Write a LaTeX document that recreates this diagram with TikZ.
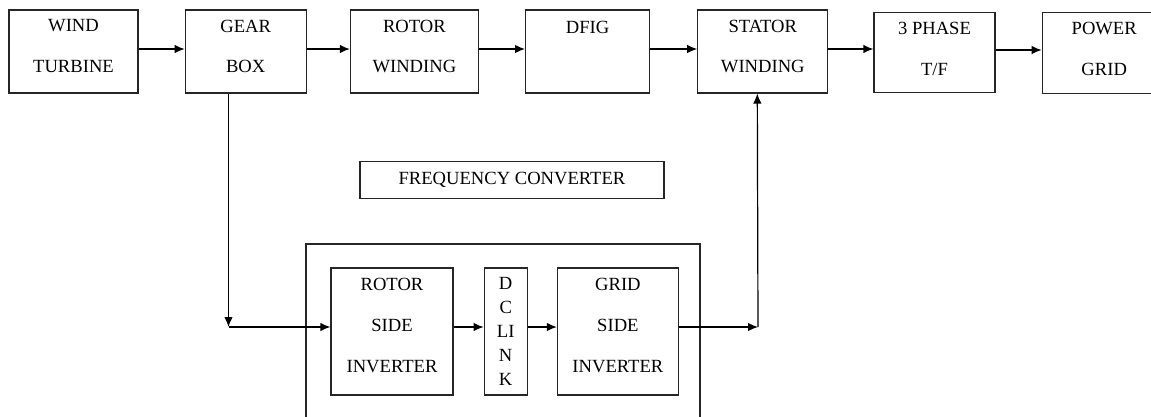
\documentclass[tikz,border=0pt]{standalone}
\usepackage{fontspec}
\setmainfont{Liberation Serif}
\usetikzlibrary{arrows.meta,positioning}
\tikzset{
  every picture/.append style={line join=miter},
  dfig block/.style={draw=black!85,line width=1.2pt,inner sep=0pt},
  dfig text/.style={font=\fontsize{18.6}{40.5}\selectfont,align=center,inner sep=0pt,anchor=north},
  dfig link/.style={font=\fontsize{18.6}{24}\selectfont,align=center,inner sep=0pt,anchor=north},
  dfig arrow/.style={line width=1.2pt,-{Latex[length=10pt,width=8.5pt]}}
}

\begin{document}
\begin{tikzpicture}[x=1pt,y=-1pt]
\useasboundingbox (0,0) rectangle (1151,416);
% machine chain
\node[dfig block,minimum width=129pt,minimum height=83pt] (wt) at (73.5,51.5) {};
\node[dfig block,minimum width=121pt,minimum height=83pt,right=46pt of wt] (gb) {};
\node[dfig block,minimum width=128pt,minimum height=83pt,right=43pt of gb] (rw) {};
\node[dfig block,minimum width=124pt,minimum height=83pt,right=46pt of rw] (dfig) {};
\node[dfig block,minimum width=130pt,minimum height=83pt,right=47pt of dfig] (sw) {};
\node[dfig block,minimum width=121pt,minimum height=80pt,right=45pt of sw,yshift=-1pt] (tf) {};
\node[dfig block,minimum width=124pt,minimum height=81pt,right=46pt of tf,yshift=-0.5pt] (pg) {};
\node[dfig text] (wt-t) at ([yshift=-10.2pt]wt.north) {WIND\\TURBINE};
\node[dfig text] (gb-t) at ([yshift=-10.2pt]gb.north) {GEAR\\BOX};
\node[dfig text] (rw-t) at ([yshift=-10.2pt]rw.north) {ROTOR\\WINDING};
\node[dfig text] (dfig-t) at ([yshift=-11.2pt]dfig.north) {DFIG};
\node[dfig text] (sw-t) at ([yshift=-10.2pt]sw.north) {STATOR\\WINDING};
\node[dfig text] (tf-t) at ([yshift=-10.2pt]tf.north) {3 PHASE\\T/F};
\node[dfig text] (pg-t) at ([yshift=-10.2pt]pg.north) {POWER\\GRID};

% converter
\node[dfig block,minimum width=304pt,minimum height=37pt,font=\fontsize{18.6}{22}\selectfont] (fc) at (512,180.3) {FREQUENCY CONVERTER};
\node[dfig block,minimum width=394pt,minimum height=200pt] (conv) at (503,344) {};
\node[dfig block,minimum width=122pt,minimum height=127pt] (rsi) at (392,331.5) {};
\node[dfig block,minimum width=43pt,minimum height=127pt,right=30pt of rsi] (dc) {};
\node[dfig block,minimum width=121pt,minimum height=127pt,right=29pt of dc] (gsi) {};
\node[dfig text,font=\fontsize{18.6}{41}\selectfont] (rsi-t) at ([yshift=-10.2pt]rsi.north) {ROTOR\\SIDE\\INVERTER};
\node[dfig link] (dc-t) at ([yshift=-10.2pt]dc.north) {D\\C\\LI\\N\\K};
\node[dfig text,font=\fontsize{18.6}{41}\selectfont] (gsi-t) at ([yshift=-10.2pt]gsi.north) {GRID\\SIDE\\INVERTER};

% connectors
\foreach \a/\b in {wt/gb,gb/rw,rw/dfig,dfig/sw,sw/tf,tf/pg}
  \draw[dfig arrow] ([yshift=2.5pt]\a.east) -- ([yshift=2.5pt]\a.east -| \b.west);
\coordinate (c1) at (228.5,327);
\coordinate (c2) at (758,327);
\draw[dfig arrow] (gb.south -| c1) -- (c1);
\draw[dfig arrow] (c1) -- (c1 -| rsi.west);
\draw[dfig arrow] (rsi.east |- c1) -- (c1 -| dc.west);
\draw[dfig arrow] (dc.east |- c1) -- (c1 -| gsi.west);
\draw[dfig arrow] (gsi.east |- c2) -- (c2);
\draw[dfig arrow] (c2) -- ([xshift=-5.5pt]sw.south);
\end{tikzpicture}
\end{document}
